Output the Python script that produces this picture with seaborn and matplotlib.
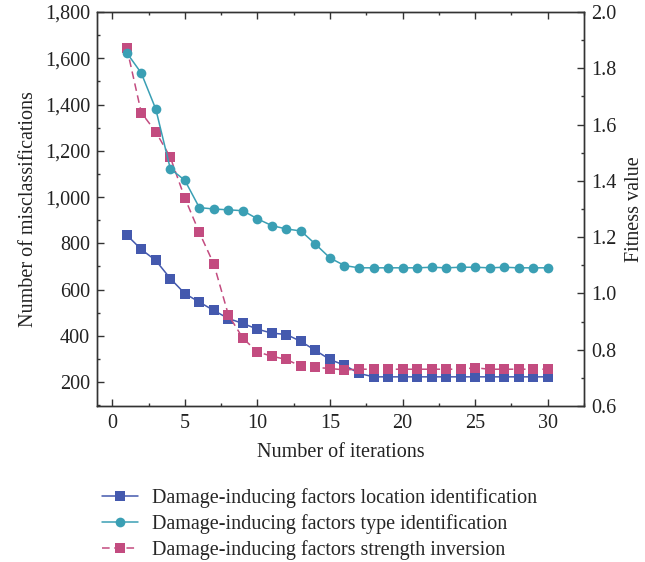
import numpy as np
import pandas as pd
import matplotlib
matplotlib.use("Agg")
import matplotlib.pyplot as plt
import seaborn as sns
from matplotlib.ticker import MultipleLocator, FuncFormatter

iterations = list(range(1, 31))
location_ident = [836, 774, 726, 648, 583, 546, 510, 475, 454, 429, 412, 406, 376, 337,
                  298, 273, 238, 223, 223, 223, 223, 223, 223, 223, 223, 223, 223, 223, 223, 223]
strength_inv = [1646, 1365, 1282, 1172, 996, 847, 710, 491, 390, 331, 312, 298, 269, 264,
                259, 253, 256, 256, 256, 256, 256, 256, 256, 256, 262, 256, 256, 256, 256, 256]
type_fitness = [1.855, 1.783, 1.655, 1.443, 1.402, 1.305, 1.300, 1.297, 1.294, 1.265, 1.241,
                1.229, 1.222, 1.175, 1.126, 1.099, 1.091, 1.091, 1.091, 1.091, 1.091, 1.093,
                1.091, 1.093, 1.093, 1.091, 1.093, 1.091, 1.091, 1.091]

labels = ["Damage-inducing factors location identification",
          "Damage-inducing factors type identification",
          "Damage-inducing factors strength inversion"]

sns.set_theme(style="ticks")
plt.rcParams['font.family'] = ['Liberation Serif', 'DejaVu Serif']
FS = 14.5
plt.rcParams['font.size'] = FS

c_blue = '#4459AE'
c_teal = '#3A9FB4'
c_pink = '#C34C80'

fig = plt.figure(figsize=(6.45, 5.62), dpi=100)
ax = fig.add_axes([97/645, 1-406/562, (584-97)/645, (406-12)/562])
ax2 = ax.twinx()

df = pd.DataFrame({"it": iterations, "loc": location_ident, "str": strength_inv, "typ": type_fitness})

sns.lineplot(data=df, x="it", y="loc", ax=ax, color=c_blue, marker="s", markersize=7,
             markeredgewidth=0, linewidth=1.1, label=labels[0], legend=False)
sns.lineplot(data=df, x="it", y="str", ax=ax, color=c_pink, marker="s", markersize=7,
             markeredgewidth=0, linewidth=1.1, dashes=False, linestyle=(0, (5, 3)),
             label=labels[2], legend=False)
sns.lineplot(data=df, x="it", y="typ", ax=ax2, color=c_teal, marker="o", markersize=7,
             markeredgewidth=0, linewidth=1.1, label=labels[1], legend=False)

ax.set_xlim(-1.05, 32.5)
ax.set_ylim(97, 1800)
ax2.set_ylim(0.6, 2.0)

ax.xaxis.set_major_locator(MultipleLocator(5))
ax.xaxis.set_minor_locator(MultipleLocator(2.5))
ax.yaxis.set_major_locator(MultipleLocator(200))
ax.yaxis.set_minor_locator(MultipleLocator(100))
ax.yaxis.set_major_formatter(FuncFormatter(lambda v, p: f"{int(v):,}"))
ax2.yaxis.set_major_locator(MultipleLocator(0.2))
ax2.yaxis.set_minor_locator(MultipleLocator(0.1))
ax2.yaxis.set_major_formatter(FuncFormatter(lambda v, p: f"{v:.1f}"))

for a in (ax, ax2):
    for s in a.spines.values():
        s.set_linewidth(1.0)
        s.set_color('#333333')
ax.tick_params(axis='both', which='major', direction='in', length=5, width=1, colors='#333333',
               labelcolor='#222222', labelsize=FS, top=True)
ax.tick_params(axis='both', which='minor', direction='in', length=2.5, width=1, colors='#333333', top=True)
ax.tick_params(axis='x', pad=6)
ax.tick_params(axis='y', pad=5)
ax2.tick_params(axis='y', which='major', direction='in', length=5, width=1, colors='#333333',
                labelcolor='#222222', labelsize=FS, pad=5)
ax2.tick_params(axis='y', which='minor', direction='in', length=2.5, width=1, colors='#333333')

ax.set_xlabel("Number of iterations", fontsize=FS, color='#222222', labelpad=7)
ax.set_ylabel("Number of misclassifications", fontsize=FS, color='#222222', labelpad=5)
ax2.set_ylabel("Fitness value", fontsize=FS, color='#222222', labelpad=6)

h1, l1 = ax.get_legend_handles_labels()
h2, l2 = ax2.get_legend_handles_labels()
hmap = dict(zip(l1 + l2, h1 + h2))
handles = [hmap[l] for l in labels]
fig.legend(handles, labels, loc='upper left', bbox_to_anchor=(94/645, 1-480/562),
           frameon=False, fontsize=FS, handlelength=1.8, labelspacing=0.3,
           handletextpad=0.7, borderaxespad=0)

fig.savefig("out.png", dpi=100)
